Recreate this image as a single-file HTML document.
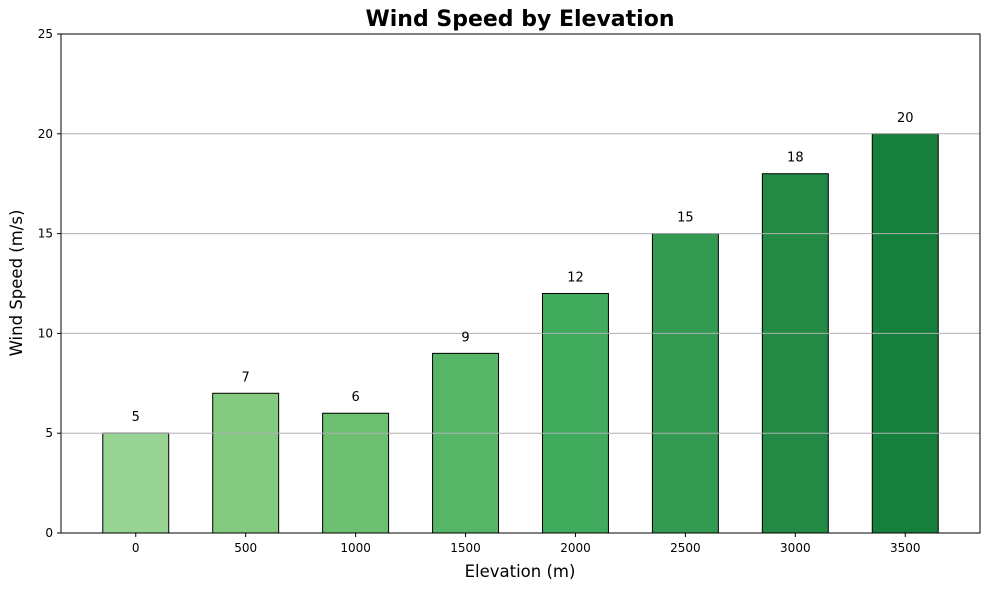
<!DOCTYPE html>
<html><head><meta charset="utf-8"><style>
body{margin:0;background:#fff;font-family:"Liberation Sans","DejaVu Sans",sans-serif;}
</style></head><body>
<svg id="chart" width="989" height="590" xmlns="http://www.w3.org/2000/svg" font-family="DejaVu Sans, Liberation Sans, sans-serif">
<rect width="989" height="590" fill="#fff"/>
<text x="520" y="26" text-anchor="middle" font-size="22" font-weight="bold">Wind Speed by Elevation</text>
<g id="bars"></g><g id="grid"></g><g id="labels"></g><g id="axes"></g>
<text x="520" y="577" text-anchor="middle" font-size="16.5">Elevation (m)</text>
<text transform="translate(22,283) rotate(-90)" text-anchor="middle" font-size="16.5">Wind Speed (m/s)</text>
</svg>
<script>
const categories=["0","500","1000","1500","2000","2500","3000","3500"];
const speeds=[5,7,6,9,12,15,18,20];
const colors=["#98d493","#84ca80","#6cc070","#56b567","#40aa5d","#329b51","#228a45","#157f3b"];
const yTicks=[0,5,10,15,20,25];
const L=61,R=980,T=34,B=533,yMax=25,xMin=-0.68,xMax=7.68;
const NS="http://www.w3.org/2000/svg";
const y=v=>B-(v/yMax)*(B-T);
const x=i=>L+(i-xMin)/(xMax-xMin)*(R-L);
const bw=0.6*(R-L)/(xMax-xMin);
function mk(t,a,p){const e=document.createElementNS(NS,t);for(const k in a)e.setAttribute(k,a[k]);p.appendChild(e);return e;}
const gb=document.getElementById('bars'),gg=document.getElementById('grid'),gl=document.getElementById('labels'),ga=document.getElementById('axes');
speeds.forEach((v,i)=>{
 const r=mk('rect',{x:x(i)-bw/2,y:y(v),width:bw,height:B-y(v),fill:colors[i],stroke:'#000','stroke-width':1},gb);
 
 
 const t=mk('text',{x:x(i),y:y(v)-12,'text-anchor':'middle','font-size':13},gl);t.textContent=v;
 
 
 mk('line',{x1:x(i),x2:x(i),y1:B,y2:B+4,stroke:'#000'},ga);
 const xt=mk('text',{x:x(i),y:B+19,'text-anchor':'middle','font-size':12},ga);xt.textContent=categories[i];
 
 
});
yTicks.forEach(v=>{
 if(v>0&&v<yMax){const g=mk('line',{x1:L,x2:R,y1:y(v),y2:y(v),stroke:'#b0b0b0','stroke-width':1},gg);
 
 }
 mk('line',{x1:L-4,x2:L,y1:y(v),y2:y(v),stroke:'#000'},ga);
 const t=mk('text',{x:L-8,y:y(v)+4,'text-anchor':'end','font-size':12},ga);t.textContent=v;
 
 
});
const f=mk('rect',{x:L,y:T,width:R-L,height:B-T,fill:'none',stroke:'#000','stroke-width':1},ga);


</script>
</body></html>
